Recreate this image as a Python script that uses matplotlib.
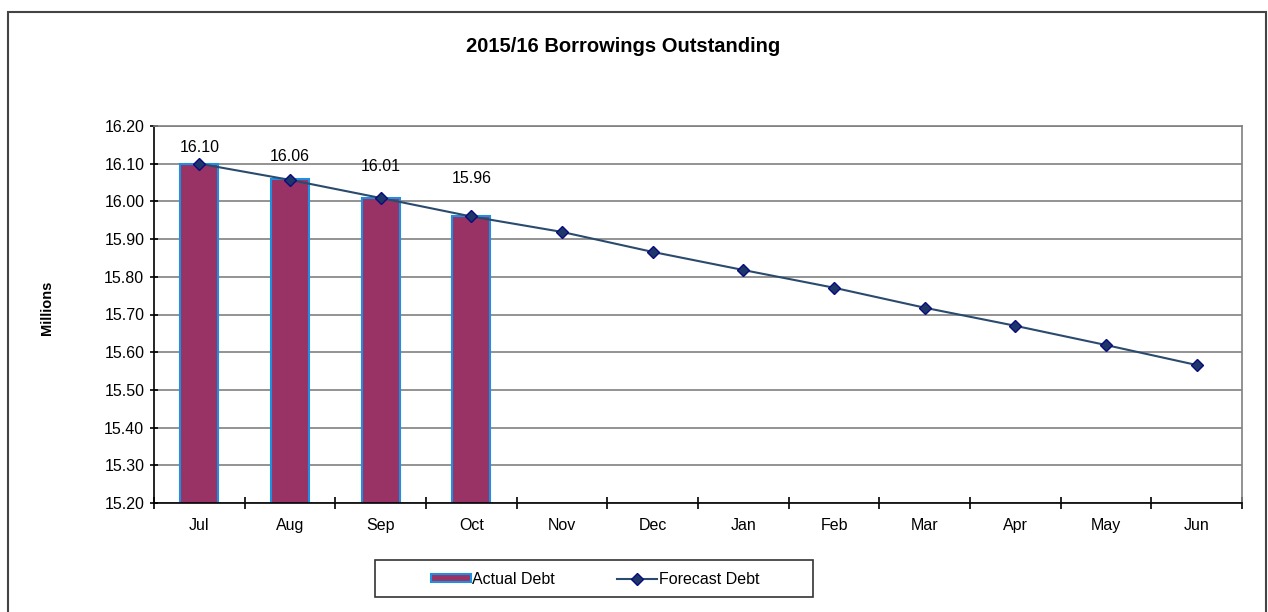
import matplotlib
matplotlib.use('Agg')
import matplotlib.pyplot as plt
from matplotlib.patches import Rectangle

plt.rcParams['font.family'] = ['Liberation Sans', 'DejaVu Sans']

months = ['Jul', 'Aug', 'Sep', 'Oct', 'Nov', 'Dec', 'Jan', 'Feb', 'Mar', 'Apr', 'May', 'Jun']
actual_debt = [16.10, 16.06, 16.01, 15.96]
forecast_debt = [16.10, 16.057, 16.009, 15.96, 15.919, 15.866, 15.818, 15.771, 15.718, 15.670, 15.619, 15.566]
y_ticks = [15.20, 15.30, 15.40, 15.50, 15.60, 15.70, 15.80, 15.90, 16.00, 16.10, 16.20]

fig = plt.figure(figsize=(12.68, 6.12), dpi=100)
ax = fig.add_axes([154 / 1268, 109 / 612, 1088 / 1268, 377 / 612])

# outer chart border
fig.patches.append(Rectangle((8 / 1268, -0.05), 1258 / 1268, 1 - 12 / 612 + 0.05,
                             transform=fig.transFigure, fill=False,
                             edgecolor='#444444', linewidth=1.5))

x = list(range(len(months)))
bars = ax.bar(x[:len(actual_debt)], actual_debt, width=0.42, bottom=0,
              color='#993366', edgecolor='#1f8fe0', linewidth=1.5, zorder=2,
              label='Actual Debt')
line, = ax.plot(x, forecast_debt, color='#2a4a6e', linewidth=1.5, marker='D',
                markersize=6, markerfacecolor='#1c3768', markeredgecolor='#0b0b80',
                zorder=3, label='Forecast Debt')

# value labels above the actual bars
label_offsets = [16, 22, 31, 38]
for i, v in enumerate(actual_debt):
    ax.annotate(f'{v:.2f}', (i, v), xytext=(0, label_offsets[i]),
                textcoords='offset pixels', ha='center', va='center', fontsize=11.5)

ax.set_ylim(15.20, 16.20)
ax.set_xlim(-0.5, 11.5)
ax.set_yticks(y_ticks)
ax.set_yticklabels([f'{t:.2f}' for t in y_ticks], fontsize=11.5)
ax.yaxis.grid(True, color='#808080', linewidth=1.2, zorder=0)
ax.set_axisbelow(True)

ax.set_xticks(x)
ax.set_xticklabels(months, fontsize=11.5)
ax.set_xticks([i - 0.5 for i in range(len(months) + 1)], minor=True)
ax.tick_params(axis='x', which='major', length=0, pad=11)
ax.tick_params(axis='x', which='minor', direction='inout', length=8, width=1.2)
ax.tick_params(axis='y', direction='inout', length=6, width=1.2, pad=4)

for side in ['left', 'bottom']:
    ax.spines[side].set_color('black')
    ax.spines[side].set_linewidth(1.2)
for side in ['top', 'right']:
    ax.spines[side].set_color('#808080')
    ax.spines[side].set_linewidth(1.2)

fig.text(623 / 1268, 1 - 47 / 612, '2015/16 Borrowings Outstanding',
         ha='center', va='center', fontsize=14.5, fontweight='bold')
fig.text(47 / 1268, 1 - 308 / 612, 'Millions', rotation=90,
         ha='center', va='center', fontsize=10.5, fontweight='bold')

# legend box drawn separately so it can be wider than its contents
fig.patches.append(Rectangle((375 / 1268, 1 - 597 / 612), 438 / 1268, 37 / 612,
                             transform=fig.transFigure, fill=False,
                             edgecolor='#333333', linewidth=1.2))
leg = fig.legend([bars, line], ['Actual Debt', 'Forecast Debt'], loc='center',
                 bbox_to_anchor=(595 / 1268, 1 - 579 / 612), ncol=2,
                 fontsize=11.5, frameon=False, handlelength=2.5,
                 handleheight=0.45, handletextpad=0.1, columnspacing=3.9)

fig.savefig('out.png', dpi=100)
